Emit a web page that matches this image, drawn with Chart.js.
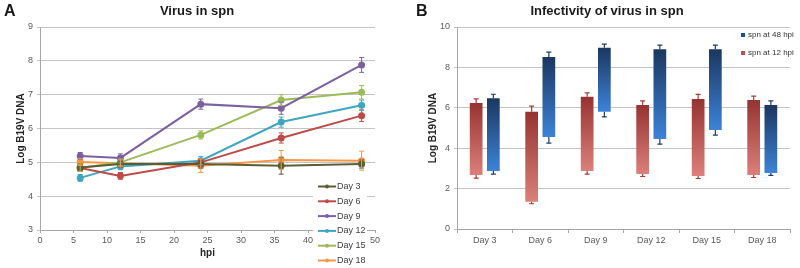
<!DOCTYPE html>
<html>
<head>
<meta charset="utf-8">
<script src="https://cdn.jsdelivr.net/npm/chart.js@4.4.1/dist/chart.umd.min.js"></script>
<style>
  body { margin: 0; background: #fff; }
  .painel { position: absolute; top: 0; width: 400px; height: 268px; }
</style>
</head>
<body>
<div class="painel" style="left:0"><canvas id="graficoA" width="400" height="268"></canvas></div>
<div class="painel" style="left:400px"><canvas id="graficoB" width="400" height="268"></canvas></div>
<script>
// === Painel A: Virus in spn ===
const hpi = [6, 12, 24, 36, 48];
const dias = ['Day 3', 'Day 6', 'Day 9', 'Day 12', 'Day 15', 'Day 18'];
const coresDias = ['#5b5e34', '#be4b48', '#7d60a0', '#3fa6c0', '#9bbb59', '#f79646'];

const day3 = [4.85, 4.95, 4.95, 4.9, 4.95];
const day6 = [4.83, 4.6, 5.0, 5.72, 6.38];
const day9 = [5.19, 5.13, 6.72, 6.6, 7.88];
const day12 = [4.54, 4.88, 5.05, 6.19, 6.69];
const day15 = [4.83, 5.0, 5.81, 6.84, 7.07];
const day18 = [5.01, 4.97, 4.9, 5.07, 5.05];

const erro3 = [0.1, 0.1, 0.12, 0.25, 0.12];
const erro6 = [0.1, 0.1, 0.1, 0.15, 0.17];
const erro9 = [0.1, 0.12, 0.15, 0.18, 0.22];
const erro12 = [0.1, 0.1, 0.12, 0.15, 0.15];
const erro15 = [0.1, 0.1, 0.12, 0.16, 0.2];
const erro18 = [0.1, 0.1, 0.2, 0.28, 0.28];

const seriesA = [day3, day6, day9, day12, day15, day18];
const errosA = [erro3, erro6, erro9, erro12, erro15, erro18];

// === Painel B: Infectivity of virus in spn ===
const categoriasB = ['Day 3', 'Day 6', 'Day 9', 'Day 12', 'Day 15', 'Day 18'];
const baixo12 = [2.67, 1.35, 2.87, 2.72, 2.62, 2.67];
const alto12 = [6.24, 5.8, 6.55, 6.14, 6.44, 6.39];
const errAlto12 = [0.2, 0.28, 0.19, 0.2, 0.22, 0.19];
const errBaixo12 = [0.15, 0.1, 0.15, 0.12, 0.12, 0.12];
const baixo48 = [2.87, 4.55, 5.8, 4.46, 4.9, 2.77];
const alto48 = [6.47, 8.51, 8.97, 8.9, 8.9, 6.14];
const errAlto48 = [0.2, 0.25, 0.18, 0.2, 0.2, 0.2];
const errBaixo48 = [0.15, 0.3, 0.25, 0.26, 0.25, 0.12];

const fonte = "'Liberation Sans', Arial, sans-serif";
const corGrade = '#c4c4c4';
const corEixo = '#a6a6a6';
const corTick = '#595959';

// Barras de erro do painel A
const errosLinhas = {
  id: 'errosLinhas',
  afterDatasetsDraw(chart) {
    const c = chart.ctx, y = chart.scales.y;
    chart.data.datasets.forEach((ds, i) => {
      const meta = chart.getDatasetMeta(i);
      meta.data.forEach((pt, j) => {
        const e = errosA[i][j], v = seriesA[i][j];
        const y1 = y.getPixelForValue(v + e), y2 = y.getPixelForValue(v - e);
        c.save();
        c.strokeStyle = ds.borderColor;
        c.lineWidth = 1;
        c.beginPath();
        c.moveTo(pt.x, y1); c.lineTo(pt.x, y2);
        c.moveTo(pt.x - 2.5, y1); c.lineTo(pt.x + 2.5, y1);
        c.moveTo(pt.x - 2.5, y2); c.lineTo(pt.x + 2.5, y2);
        c.stroke();
        c.restore();
      });
    });
  }
};

// Titulo, letra e legenda do painel A
const extrasA = {
  id: 'extrasA',
  afterDraw(chart) {
    const c = chart.ctx;
    c.save();
    c.fillStyle = '#1a1a1a';
    c.font = 'bold 16px ' + fonte;
    c.textBaseline = 'middle';
    c.textAlign = 'left';
    c.fillText('A', 4, 12);
    c.font = 'bold 13px ' + fonte;
    c.textAlign = 'center';
    c.fillText('Virus in spn', 197, 11);
    // legenda
    c.fillStyle = '#fff';
    c.fillRect(313, 180, 54, 88);
    c.font = '9px ' + fonte;
    c.textAlign = 'left';
    dias.forEach((d, i) => {
      const yy = 186.5 + i * 14.8;
      c.strokeStyle = coresDias[i];
      c.lineWidth = 2;
      c.beginPath(); c.moveTo(318, yy); c.lineTo(336, yy); c.stroke();
      c.fillStyle = coresDias[i];
      c.beginPath(); c.arc(327, yy, 2, 0, Math.PI * 2); c.fill();
      c.fillStyle = '#404040';
      c.fillText(d, 337, yy);
    });
    c.restore();
  }
};

new Chart(document.getElementById('graficoA'), {
  type: 'line',
  data: {
    datasets: seriesA.map((s, i) => ({
      label: dias[i],
      data: s.map((v, j) => ({ x: hpi[j], y: v })),
      borderColor: coresDias[i],
      backgroundColor: coresDias[i],
      borderWidth: 2,
      pointRadius: 2.5,
      tension: 0
    }))
  },
  options: {
    responsive: false,
    animation: false,
    layout: { padding: { left: 0, right: 25, top: 27, bottom: 0 } },
    plugins: { legend: { display: false }, tooltip: { enabled: false } },
    scales: {
      x: {
        type: 'linear', min: 0, max: 50,
        afterFit: (s) => { s.height = 38; },
        title: { display: true, text: 'hpi', color: '#262626', font: { family: fonte, size: 10, weight: 'bold' }, padding: { top: 0, bottom: 9 } },
        ticks: { stepSize: 5, color: corTick, font: { family: fonte, size: 9 }, padding: 2 },
        grid: { drawOnChartArea: false, tickLength: 3, color: corEixo },
        border: { color: corEixo }
      },
      y: {
        min: 3, max: 9,
        afterFit: (s) => { s.width = 40; },
        title: { display: true, text: 'Log B19V DNA', color: '#262626', font: { family: fonte, size: 10, weight: 'bold' }, padding: { top: 15, bottom: 0 } },
        ticks: { stepSize: 1, color: corTick, font: { family: fonte, size: 9 }, padding: 4 },
        grid: { color: corGrade, tickLength: 3 },
        border: { color: corEixo }
      }
    }
  },
  plugins: [errosLinhas, extrasA]
});

// Gradiente por barra
function gradiente(topo, base) {
  return (ctx) => {
    const chart = ctx.chart;
    if (ctx.type !== 'data' || !chart.chartArea || !chart.scales.y) return topo;
    const y = chart.scales.y;
    const r = ctx.raw;
    const yt = y.getPixelForValue(r[1]), yb = y.getPixelForValue(r[0]);
    if (!isFinite(yt) || !isFinite(yb)) return topo;
    const g = chart.ctx.createLinearGradient(0, yt, 0, yb);
    g.addColorStop(0, topo);
    g.addColorStop(1, base);
    return g;
  };
}

const infoErrosB = [
  { baixo: baixo12, alto: alto12, eA: errAlto12, eB: errBaixo12, cor: '#a33c3a' },
  { baixo: baixo48, alto: alto48, eA: errAlto48, eB: errBaixo48, cor: '#1f3a66' }
];

const errosBarras = {
  id: 'errosBarras',
  afterDatasetsDraw(chart) {
    const c = chart.ctx, y = chart.scales.y;
    infoErrosB.forEach((inf, i) => {
      const meta = chart.getDatasetMeta(i);
      meta.data.forEach((bar, j) => {
        const yt = y.getPixelForValue(inf.alto[j]), yte = y.getPixelForValue(inf.alto[j] + inf.eA[j]);
        const yb = y.getPixelForValue(inf.baixo[j]), ybe = y.getPixelForValue(inf.baixo[j] - inf.eB[j]);
        c.save();
        c.strokeStyle = inf.cor;
        c.lineWidth = 1.2;
        c.beginPath();
        c.moveTo(bar.x, yt); c.lineTo(bar.x, yte);
        c.moveTo(bar.x - 2.5, yte); c.lineTo(bar.x + 2.5, yte);
        c.moveTo(bar.x, yb); c.lineTo(bar.x, ybe);
        c.moveTo(bar.x - 2.5, ybe); c.lineTo(bar.x + 2.5, ybe);
        c.stroke();
        c.restore();
      });
    });
  }
};

const extrasB = {
  id: 'extrasB',
  afterDraw(chart) {
    const c = chart.ctx;
    c.save();
    c.fillStyle = '#1a1a1a';
    c.font = 'bold 16px ' + fonte;
    c.textBaseline = 'middle';
    c.textAlign = 'left';
    c.fillText('B', 16, 12);
    c.font = 'bold 13px ' + fonte;
    c.textAlign = 'center';
    c.fillText('Infectivity of virus in spn', 207, 11);
    // legenda
    c.font = '8px ' + fonte;
    c.textAlign = 'left';
    c.fillStyle = '#1f4e8c';
    c.fillRect(341, 33, 4, 4);
    c.fillStyle = '#c0504d';
    c.fillRect(341, 51, 4, 4);
    c.fillStyle = '#333';
    c.fillText('spn at 48 hpi', 348, 35);
    c.fillText('spn at 12 hpi', 348, 53);
    c.restore();
  }
};

new Chart(document.getElementById('graficoB'), {
  type: 'bar',
  data: {
    labels: categoriasB,
    datasets: [
      {
        label: 'spn at 12 hpi',
        data: baixo12.map((b, j) => [b, alto12[j]]),
        backgroundColor: gradiente('#963331', '#dc807c'),
        borderSkipped: false,
        borderWidth: 0,
        barPercentage: 0.74,
        categoryPercentage: 0.62
      },
      {
        label: 'spn at 48 hpi',
        data: baixo48.map((b, j) => [b, alto48[j]]),
        backgroundColor: gradiente('#1b3760', '#3d83d8'),
        borderSkipped: false,
        borderWidth: 0,
        barPercentage: 0.74,
        categoryPercentage: 0.62
      }
    ]
  },
  options: {
    responsive: false,
    animation: false,
    layout: { padding: { left: 0, right: 10, top: 27, bottom: 0 } },
    plugins: { legend: { display: false }, tooltip: { enabled: false } },
    scales: {
      x: {
        afterFit: (s) => { s.height = 39; },
        ticks: { color: corTick, font: { family: fonte, size: 9 }, padding: 2 },
        grid: { drawOnChartArea: false, tickLength: 4, color: corEixo, offset: true },
        border: { color: corEixo }
      },
      y: {
        min: 0, max: 10,
        afterFit: (s) => { s.width = 57; },
        title: { display: true, text: 'Log B19V DNA', color: '#262626', font: { family: fonte, size: 10, weight: 'bold' }, padding: { top: 27, bottom: 0 } },
        ticks: { stepSize: 2, color: corTick, font: { family: fonte, size: 9 }, padding: 4 },
        grid: { color: corGrade, tickLength: 3 },
        border: { color: corEixo }
      }
    }
  },
  plugins: [errosBarras, extrasB]
});
</script>
</body>
</html>
